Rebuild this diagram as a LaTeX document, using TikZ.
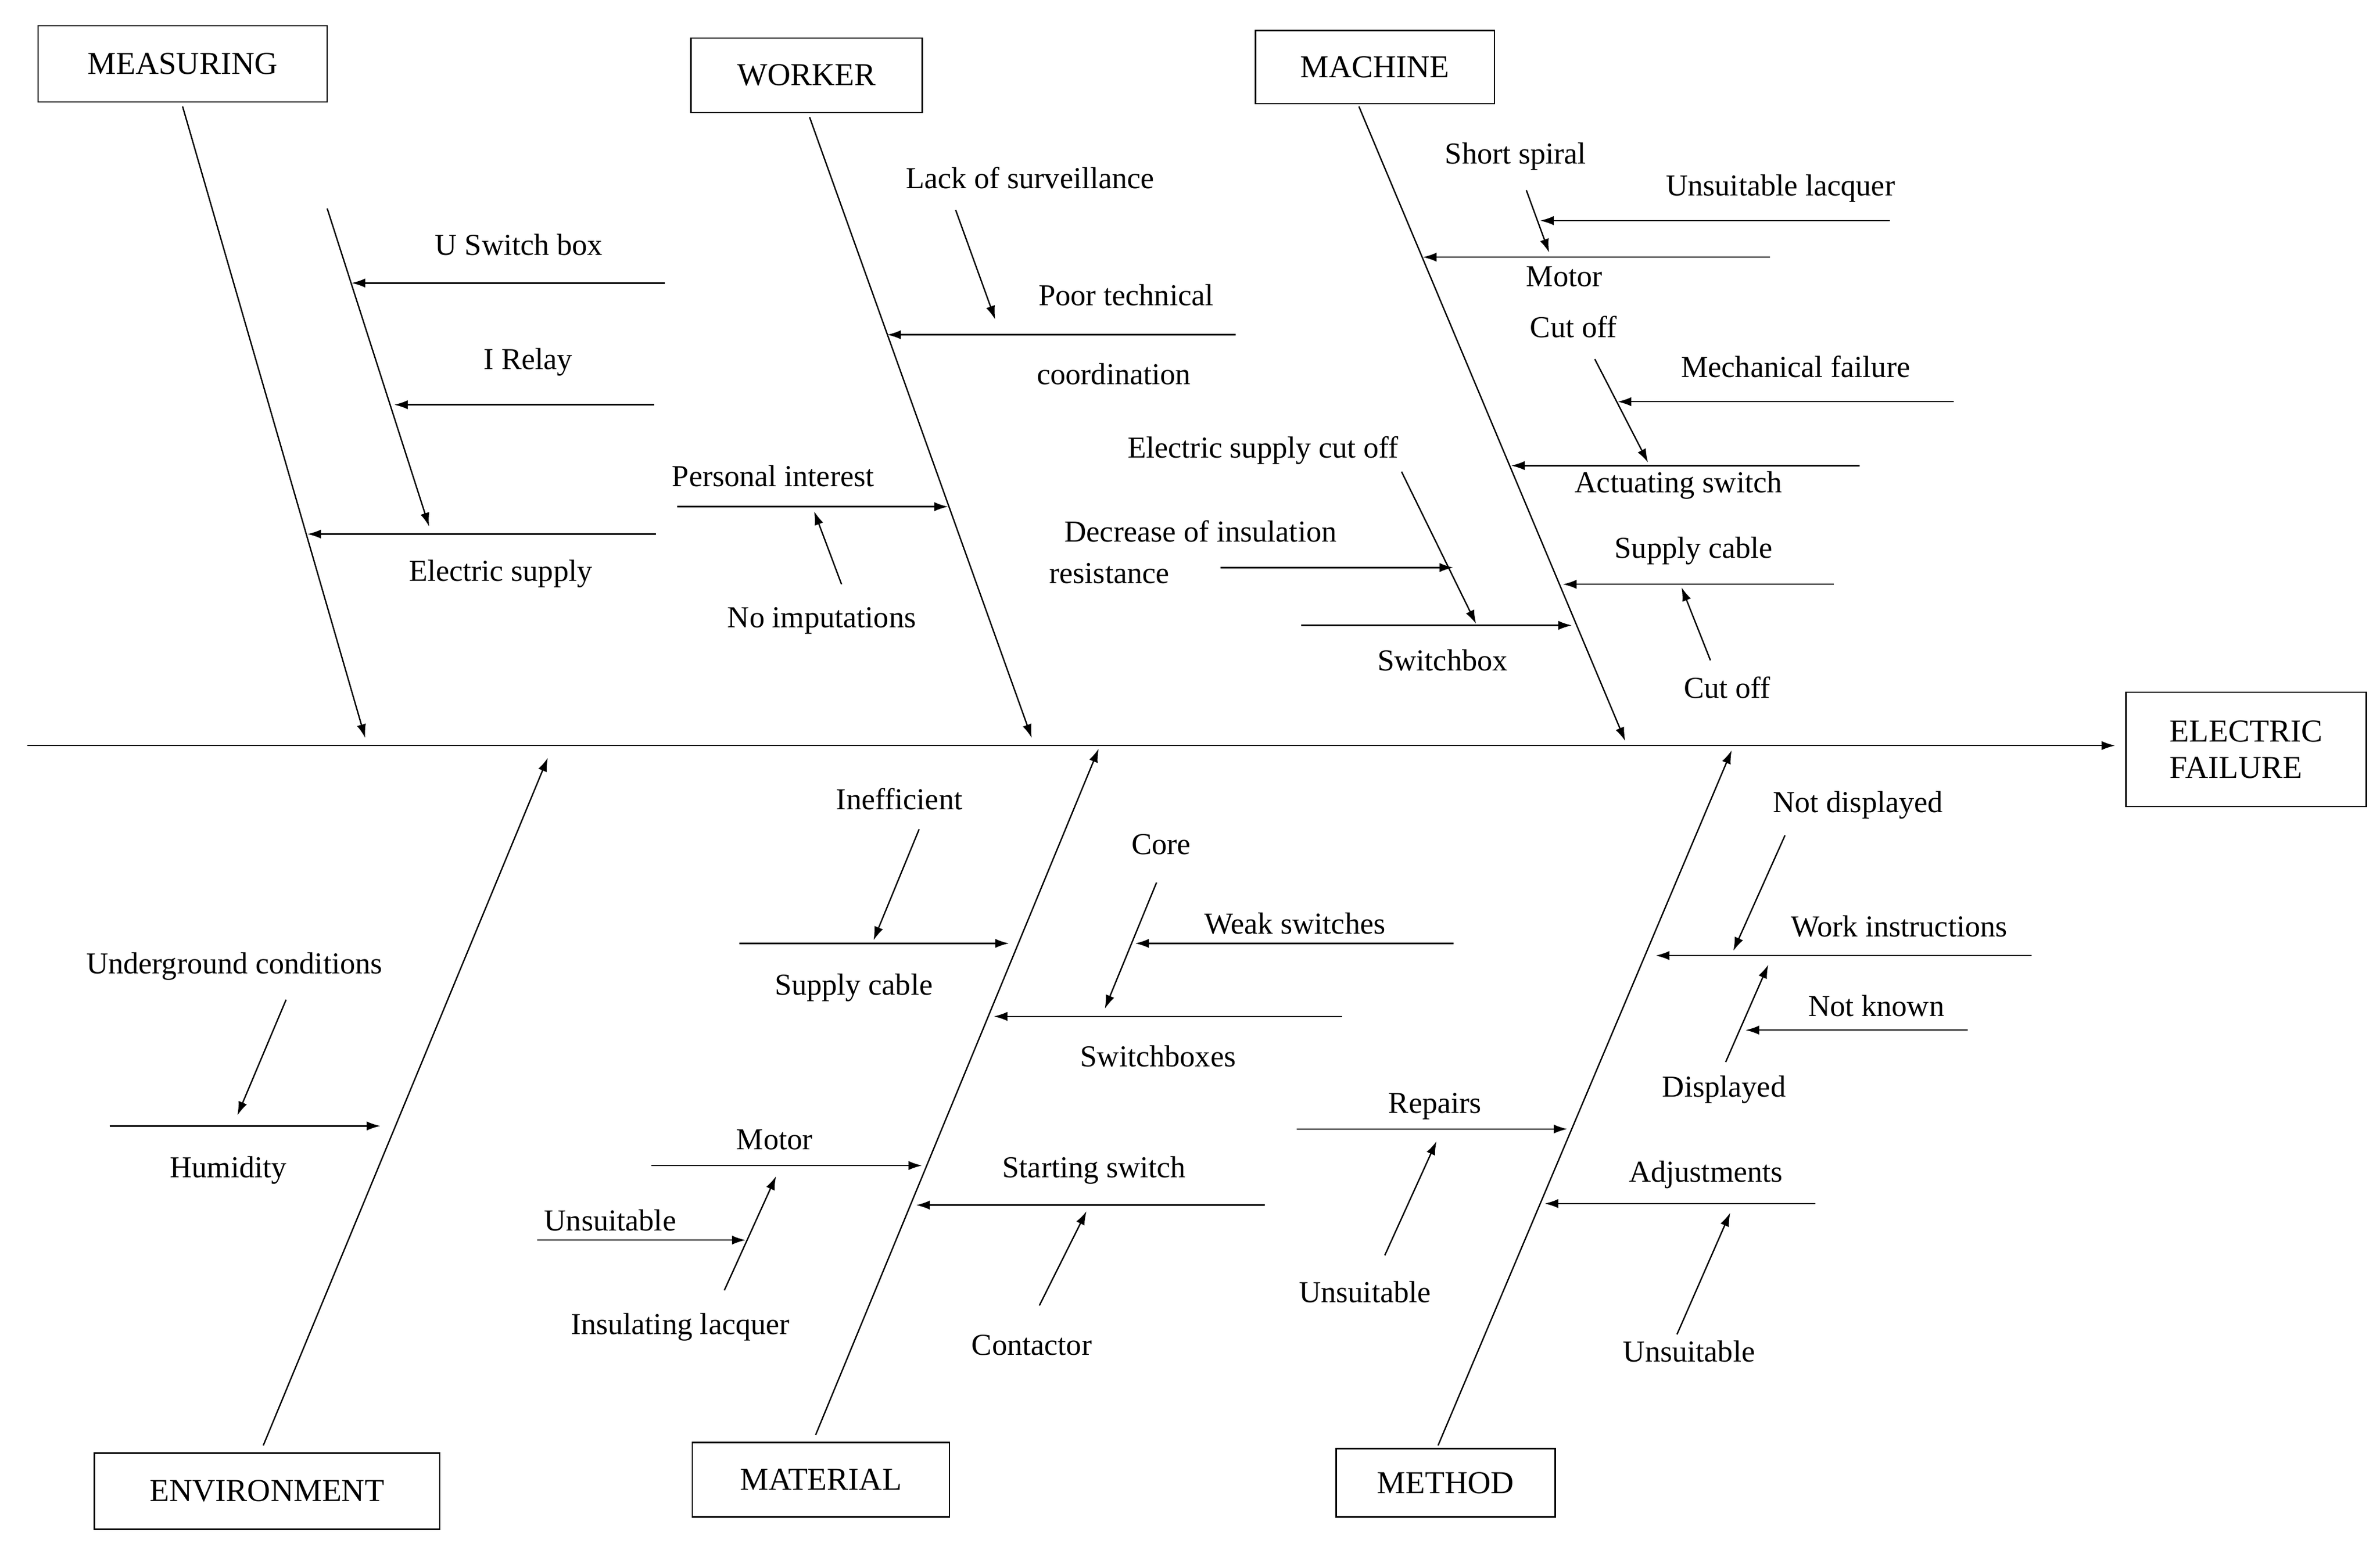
\documentclass[tikz,border=0pt]{standalone}
\usepackage{fontspec}
\setmainfont{Liberation Serif}
\usetikzlibrary{arrows.meta}
\begin{document}
\begin{tikzpicture}[x=1pt,y=-1pt,
  ln/.style={line width=0.9pt},
  ar/.style={line width=0.9pt,-{Latex[length=9pt,width=6pt]}},
  lb/.style={font=\fontsize{20}{22}\selectfont,inner sep=0pt},
  bx/.style={draw,line width=0.9pt,font=\fontsize{21}{24}\selectfont,inner sep=0pt}]
\useasboundingbox (0,0) rectangle (1564,1014);
\newcommand\arr[3]{\coordinate (#1a) at (#2);\coordinate (#1b) at (#3);\draw[ar] (#1a) -- (#1b);}
\newcommand\lab[3]{\node[lb] (#1) at (#2) {#3};}
\newcommand\bxx[4]{\node[bx,minimum width=#3,minimum height=#4] (#1) at (#2) {};}
% boxes
\node[bx,minimum width=190,minimum height=50] (bmeas) at (120,42) {MEASURING};
\node[bx,minimum width=152,minimum height=49] (bwork) at (530,49.5) {WORKER};
\node[bx,minimum width=157,minimum height=48] (bmach) at (903.5,44) {MACHINE};
\node[bx,minimum width=227,minimum height=50] (benv) at (175.5,980) {ENVIRONMENT};
\node[bx,minimum width=169,minimum height=49] (bmat) at (539.5,972.5) {MATERIAL};
\node[bx,minimum width=144,minimum height=45] (bmeth) at (950,974.5) {METHOD};
\node[bx,minimum width=158,minimum height=75,align=left] (bef) at (1476,492.5) {ELECTRIC\\FAILURE};
% spine
\coordinate (sp0) at (18,490); \coordinate (sp1) at (1390,490);
\draw[ar] (sp0) -- (sp1);
% main bones
\arr{m1}{120,70}{240,485}
\arr{m2}{532,77}{678,485}
\arr{m3}{893,70}{1068,487}
\arr{m4}{173,950}{360,498}
\arr{m5}{536,943}{722,492}
\arr{m6}{945,950}{1138,493}
% measuring
\arr{a1}{215,137}{282,346}
\lab{t1}{341,161}{U Switch box}\arr{a2}{437,186}{231,186}
\lab{t2}{347,238}{I Relay}\arr{a3}{430,266}{259,266}
\lab{t3}{329,377}{Electric supply}\arr{a4}{431,351}{202,351}
% worker
\lab{t4}{677,117}{Lack of surveillance}\arr{a5}{628,138}{654,210}
\lab{t5}{740,194}{Poor technical}\lab{t6}{732,246}{coordination}\arr{a6}{812,220}{583,220}
\lab{t7}{508,313}{Personal interest}\arr{a7}{445,333}{623,333}
\lab{t8}{540,408}{No imputations}\arr{a8}{553,384}{535,336}
% machine
\lab{t9}{996,103}{Short spiral}\lab{t10}{1170,124}{Unsuitable lacquer}
\arr{a9}{1242,145}{1012,145}\arr{a10}{1003,125}{1018,166}
\lab{t11}{1028,182}{Motor}\arr{a11}{1163,169}{935,169}
\lab{t12}{1034,215}{Cut off}\lab{t13}{1180,241}{Mechanical failure}
\arr{a12}{1284,264}{1063,264}\arr{a13}{1048,236}{1083,304}
\lab{t14}{1103,319}{Actuating switch}\arr{a14}{1222,306}{993,306}
\lab{t15}{830,296}{Electric supply cut off}\arr{a15}{921,310}{970,410}
\lab{t16}{789,349}{Decrease of insulation}\lab{t17}{729,377}{resistance}\arr{a16}{802,373}{955,373}
\lab{t18}{948,434}{Switchbox}\arr{a17}{855,411}{1033,411}
\lab{t19}{1113,362}{Supply cable}\arr{a18}{1205,384}{1027,384}
\lab{t20}{1135,452}{Cut off}\arr{a19}{1124,434}{1105,386}
% environment
\lab{t21}{154,635}{Underground conditions}\arr{a20}{188,657}{156,733}
\lab{t22}{150,769}{Humidity}\arr{a21}{72,740}{250,740}
% material
\lab{t23}{591,525}{Inefficient}\arr{a22}{604,545}{574,618}
\lab{t24}{561,649}{Supply cable}\arr{a23}{486,620}{663,620}
\lab{t25}{763,555}{Core}\arr{a24}{760,580}{726,663}
\lab{t26}{851,607}{Weak switches}\arr{a25}{955,620}{746,620}
\lab{t27}{761,694}{Switchboxes}\arr{a26}{882,668}{653,668}
\lab{t28}{509,749}{Motor}\arr{a27}{428,766}{606,766}
\lab{t29}{401,802}{Unsuitable}\arr{a28}{353,815}{490,815}
\lab{t30}{447,872}{Insulating lacquer}\arr{a29}{476,848}{510,773}
\lab{t31}{719,769}{Starting switch}\arr{a30}{831,792}{602,792}
\lab{t32}{678,884}{Contactor}\arr{a31}{683,858}{714,796}
% method
\lab{t33}{1221,529}{Not displayed}\arr{a32}{1173,549}{1139,625}
\lab{t34}{1248,609}{Work instructions}\arr{a33}{1335,628}{1088,628}
\lab{t35}{1233,661}{Not known}\arr{a34}{1293,677}{1147,677}
\lab{t36}{1133,716}{Displayed}\arr{a35}{1134,698}{1162,634}
\lab{t37}{943,727}{Repairs}\arr{a36}{852,742}{1030,742}
\lab{t38}{897,849}{Unsuitable}\arr{a37}{910,825}{944,750}
\lab{t39}{1121,772}{Adjustments}\arr{a38}{1193,791}{1015,791}
\lab{t40}{1110,888}{Unsuitable}\arr{a39}{1102,877}{1137,797}
\end{tikzpicture}
\end{document}
